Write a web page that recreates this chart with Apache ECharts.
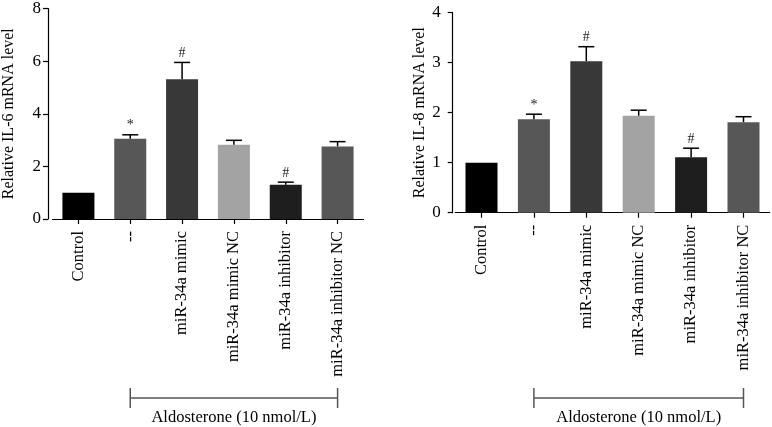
<!DOCTYPE html>
<html>
<head>
<meta charset="utf-8">
<script src="https://cdn.jsdelivr.net/npm/echarts@6/dist/echarts.min.js"></script>
<style>
  html, body { margin: 0; padding: 0; background: #fff; }
  #main { width: 772px; height: 427px; }
</style>
</head>
<body>
<div id="main"></div>
<script>
// groups on the x axis (same for both panels)
const groups = ['Control', '--', 'miR-34a mimic', 'miR-34a mimic NC', 'miR-34a inhibitor', 'miR-34a inhibitor NC'];
const barColors = ['#000000', '#575757', '#383838', '#a3a3a3', '#1e1e1e', '#575757'];

// IL-6 panel
const il6Mean = [1.0, 3.05, 5.31, 2.82, 1.30, 2.76];
const il6Upper = [1.0, 3.20, 5.95, 2.99, 1.40, 2.94];
const il6Sig = ['', '*', '#', '', '#', ''];

// IL-8 panel
const il8Mean = [1.0, 1.87, 3.03, 1.94, 1.11, 1.81];
const il8Upper = [1.0, 1.97, 3.32, 2.05, 1.29, 1.92];
const il8Sig = ['', '*', '#', '', '#', ''];

const serif = 'Liberation Serif';
const chart = echarts.init(document.getElementById('main'));

function xAxisOf(gridIndex) {
    return {
        type: 'category',
        gridIndex: gridIndex,
        data: groups,
        axisLine: { lineStyle: { color: '#000', width: 1.2 } },
        axisTick: { show: true, alignWithLabel: true, length: 5, lineStyle: { color: '#000', width: 1.2 } },
        axisLabel: { rotate: 90, interval: 0, margin: 12, color: '#000', fontFamily: serif, fontSize: 16.5 }
    }
}

function yAxisOf(gridIndex, max, interval, name, offset, nameGap, labelMargin) {
    return {
        type: 'value',
        gridIndex: gridIndex,
        min: 0, max: max, interval: interval,
        offset: offset,
        name: name,
        nameLocation: 'middle',
        nameGap: nameGap,
        nameTextStyle: { color: '#000', fontFamily: serif, fontSize: 16 },
        axisLine: { show: true, lineStyle: { color: '#000', width: 1.2 } },
        axisTick: { show: true, length: 5, lineStyle: { color: '#000', width: 1.2 } },
        axisLabel: { margin: labelMargin, color: '#000', fontFamily: serif, fontSize: 17 },
        splitLine: { show: false }
    }
}

function barSeries(idx, values) {
    return {
        type: 'bar',
        xAxisIndex: idx, yAxisIndex: idx,
        data: values,
        barWidth: 32,
        itemStyle: { color: p => barColors[p.dataIndex] },
        z: 2
    }
}

function errSeries(idx, means, upper, sig) {
    return {
        type: 'custom',
        xAxisIndex: idx, yAxisIndex: idx,
        data: means.map((m, i) => [i, m, upper[i]]),
        z: 3,
        renderItem: function (params, api) {
            const i = api.value(0);
            const base = api.coord([i, api.value(1)]);
            const top = api.coord([i, api.value(2)]);
            const children = [];
            if (api.value(2) > api.value(1)) {
                children.push({
                    type: 'line',
                    shape: { x1: top[0], y1: base[1], x2: top[0], y2: top[1] },
                    style: { stroke: '#000', lineWidth: 1.5 }
                });
                children.push({
                    type: 'line',
                    shape: { x1: top[0] - 8, y1: top[1], x2: top[0] + 8, y2: top[1] },
                    style: { stroke: '#000', lineWidth: 1.5 }
                });
            }
            if (sig[i]) {
                children.push({
                    type: 'text',
                    style: {
                        x: top[0], y: top[1] - 2,
                        text: sig[i],
                        fill: '#222',
                        font: '14px "' + serif + '"',
                        align: 'center', verticalAlign: 'bottom'
                    }
                });
            }
            return { type: 'group', children: children };
        }
    }
}

chart.setOption({
    animation: false,
    grid: [
        { left: 47.5, top: 6, width: 316, bottom: 208 },
        { left: 455.3, top: 12.7, width: 314.4, bottom: 214.3 }
    ],
    xAxis: [xAxisOf(0), xAxisOf(1)],
    yAxis: [
        yAxisOf(0, 8, 2, 'Relative IL-6 mRNA level', 4.5, 31, 7),
        yAxisOf(1, 4, 1, 'Relative IL-8 mRNA level', 2.6, 25, 12)
    ],
    series: [
        barSeries(0, il6Mean),
        errSeries(0, il6Mean, il6Upper, il6Sig),
        barSeries(1, il8Mean),
        errSeries(1, il8Mean, il8Upper, il8Sig)
    ]
});

// "Aldosterone" bracket under groups 2..6 of each panel
function bracket(idx) {
    const x1 = chart.convertToPixel({ xAxisIndex: idx }, 1);
    const x2 = chart.convertToPixel({ xAxisIndex: idx }, 5);
    const y = 398;
    const ln = { stroke: '#555', lineWidth: 1.5 };
    return [
        { type: 'line', shape: { x1: x1, y1: y, x2: x2, y2: y }, style: ln },
        { type: 'line', shape: { x1: x1, y1: y - 10, x2: x1, y2: y + 10 }, style: ln },
        { type: 'line', shape: { x1: x2, y1: y - 10, x2: x2, y2: y + 10 }, style: ln },
        {
            type: 'text', x: (x1 + x2) / 2, y: 418,
            style: { text: 'Aldosterone (10 nmol/L)', fill: '#000', font: '16.5px "' + serif + '"', align: 'center', verticalAlign: 'middle' }
        }
    ];
}
chart.setOption({ graphic: bracket(0).concat(bracket(1)) });
</script>
</body>
</html>
